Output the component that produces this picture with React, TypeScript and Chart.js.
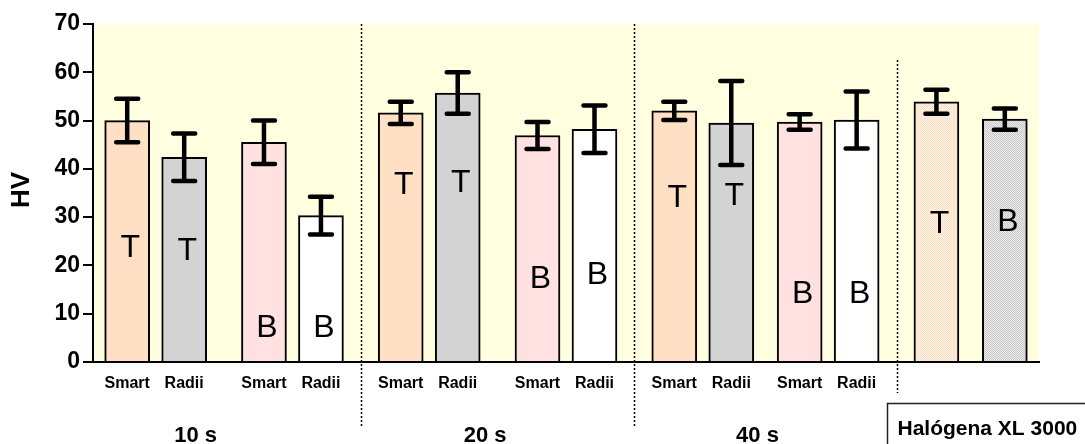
import React, { useEffect, useRef } from "react";
import { Chart, registerables } from "chart.js";

Chart.register(...registerables);

// ---------- data ----------
const barLabels = [
  "Smart", "Radii", "Smart", "Radii",
  "Smart", "Radii", "Smart", "Radii",
  "Smart", "Radii", "Smart", "Radii",
  "", "",
];
const hvMeans = [50.0, 42.4, 45.5, 30.3, 51.6, 55.7, 46.9, 48.2, 52.0, 49.5, 49.7, 50.1, 53.9, 50.3];
const hvSD = [4.5, 4.9, 4.5, 3.9, 2.3, 4.3, 2.8, 4.9, 1.9, 8.7, 1.6, 5.9, 2.5, 2.2];
const surfaceLetters = ["T", "T", "B", "B", "T", "T", "B", "B", "T", "T", "B", "B", "T", "B"];
const letterLevels = [24.2, 23.5, 7.5, 7.5, 37.2, 37.5, 17.7, 18.5, 34.4, 34.8, 14.7, 14.7, 29.1, 29.6];
const groupLabels = ["10 s", "20 s", "40 s"];
const lampLabel = "Halógena XL 3000";
const yTickValues = [0, 10, 20, 30, 40, 50, 60, 70];
const yTitle = "HV";

// ---------- layout / style ----------
const SLOT_GAPS = [3, 5, 7, 5, 7, 5, 7, 5, 7, 5, 6, 5, 7, 6];
const TRAILING_SLOTS = 3;
const GROUP_LABEL_SLOTS = [9, 34.4, 58.3];
const FONT = "Arial, 'Liberation Sans', sans-serif";

function makePattern(a: string, b: string) {
  const c = document.createElement("canvas");
  c.width = 2;
  c.height = 2;
  const g = c.getContext("2d")!;
  g.fillStyle = a;
  g.fillRect(0, 0, 2, 2);
  g.fillStyle = b;
  g.fillRect(0, 0, 1, 1);
  g.fillRect(1, 1, 1, 1);
  return g.createPattern(c, "repeat")!;
}

export default function App() {
  const ref = useRef<HTMLCanvasElement>(null);

  useEffect(() => {
    const canvas = ref.current!;
    const slots: number[] = [];
    let pos = 0;
    SLOT_GAPS.forEach((g) => {
      pos += g;
      slots.push(pos);
    });
    const nSlots = pos + TRAILING_SLOTS + 1;
    const labels: string[] = new Array(nSlots).fill("");
    const data: (number | null)[] = new Array(nSlots).fill(null);
    const colors: any[] = new Array(nSlots).fill("#fff");

    const peachHatch = makePattern("#FFF4EA", "#FFDDBF");
    const grayHatch = makePattern("#EDEDED", "#C6C6C6");
    const barFills = [
      "#FFE0C4", "#D3D3D3", "#FFE1E1", "#FFFFFF",
      "#FFE0C4", "#D3D3D3", "#FFE1E1", "#FFFFFF",
      "#FFE0C4", "#D3D3D3", "#FFE1E1", "#FFFFFF",
      peachHatch, grayHatch,
    ];

    slots.forEach((s, i) => {
      labels[s] = barLabels[i];
      data[s] = hvMeans[i];
      colors[s] = barFills[i];
    });

    const decor = {
      id: "decor",
      beforeDraw(chart: any) {
        const { ctx, chartArea: a } = chart;
        ctx.save();
        ctx.fillStyle = "#FFFFE0";
        ctx.fillRect(a.left, a.top, a.right - a.left, a.bottom - a.top);
        ctx.restore();
      },
      afterDatasetsDraw(chart: any) {
        const { ctx } = chart;
        const ys = chart.scales.y;
        const meta = chart.getDatasetMeta(0);
        ctx.save();
        ctx.strokeStyle = "#000";
        ctx.fillStyle = "#000";
        slots.forEach((s, i) => {
          const el = meta.data[s];
          const x = el.x;
          const yTop = ys.getPixelForValue(hvMeans[i] + hvSD[i]);
          const yBot = ys.getPixelForValue(hvMeans[i] - hvSD[i]);
          ctx.lineWidth = 4.5;
          ctx.lineCap = "butt";
          ctx.beginPath();
          ctx.moveTo(x, yTop);
          ctx.lineTo(x, yBot);
          ctx.stroke();
          ctx.lineCap = "round";
          ctx.beginPath();
          ctx.moveTo(x - 11, yTop);
          ctx.lineTo(x + 11, yTop);
          ctx.moveTo(x - 11, yBot);
          ctx.lineTo(x + 11, yBot);
          ctx.stroke();
          // surface letter
          ctx.font = `32px ${FONT}`;
          ctx.textAlign = "center";
          ctx.textBaseline = "alphabetic";
          const cy = ys.getPixelForValue(letterLevels[i]);
          ctx.fillText(surfaceLetters[i], x + 3, cy + 11.5);
        });
        ctx.restore();
      },
      afterDraw(chart: any) {
        const { ctx, chartArea: a } = chart;
        const xs = chart.scales.x;
        ctx.save();
        // dotted dividers
        ctx.strokeStyle = "#000";
        ctx.lineWidth = 1.5;
        ctx.setLineDash([2, 2]);
        const div = (k: number) => Math.round((xs.getPixelForValue(slots[k]) + xs.getPixelForValue(slots[k + 1])) / 2) + 0.5;
        const d1 = div(3), d2 = div(7), d3 = div(11);
        ctx.beginPath();
        ctx.moveTo(d1, a.top);
        ctx.lineTo(d1, a.bottom + 66);
        ctx.moveTo(d2, a.top);
        ctx.lineTo(d2, a.bottom + 66);
        ctx.moveTo(d3, a.top + 36);
        ctx.lineTo(d3, a.bottom + 31);
        ctx.stroke();
        ctx.setLineDash([]);

        // group labels
        ctx.fillStyle = "#000";
        ctx.font = `bold 22px ${FONT}`;
        ctx.textAlign = "center";
        ctx.textBaseline = "alphabetic";
        groupLabels.forEach((t, i) => {
          ctx.fillText(t, xs.getPixelForValue(GROUP_LABEL_SLOTS[i]), a.bottom + 80);
        });

        // lamp box
        ctx.lineWidth = 1.5;
        ctx.strokeStyle = "#222";
        const bx = d3 - 10;
        const by = a.bottom + 41.5;
        ctx.strokeRect(bx, by, 400, 100);
        ctx.font = `bold 21px ${FONT}`;
        ctx.textAlign = "left";
        ctx.fillText(lampLabel, bx + 10, a.bottom + 73);

        // y title
        ctx.translate(22, (a.top + a.bottom) / 2 - 3);
        ctx.rotate(-Math.PI / 2);
        ctx.font = `bold 26px ${FONT}`;
        ctx.textAlign = "center";
        ctx.textBaseline = "middle";
        ctx.fillText(yTitle, 0, 0);
        ctx.restore();
      },
    };

    const chart = new Chart(canvas, {
      type: "bar",
      data: {
        labels,
        datasets: [
          {
            data,
            backgroundColor: colors,
            borderColor: "#000",
            borderWidth: 2,
            barThickness: 45,
            borderSkipped: "start",
          },
        ],
      },
      options: {
        responsive: false,
        animation: false,
        devicePixelRatio: 1,
        layout: { padding: { left: 0, right: 46, top: 24, bottom: 0 } },
        plugins: { legend: { display: false }, tooltip: { enabled: false } },
        scales: {
          x: {
            type: "category",
            offset: false,
            grid: { display: false, drawTicks: false },
            border: { display: true, color: "#000", width: 2 },
            ticks: {
              autoSkip: false,
              maxRotation: 0,
              minRotation: 0,
              padding: 12,
              color: "#000",
              font: { family: FONT, size: 16, weight: "bold" },
            },
            afterFit: (s: any) => {
              s.height = 82;
            },
          },
          y: {
            min: 0,
            max: 70,
            afterBuildTicks: (s: any) => {
              s.ticks = yTickValues.map((v) => ({ value: v }));
            },
            grid: {
              display: true,
              drawOnChartArea: false,
              drawTicks: true,
              tickLength: 10,
              color: "#000",
              lineWidth: 2,
            },
            border: { display: true, color: "#000", width: 2 },
            ticks: {
              padding: 3,
              color: "#000",
              font: { family: FONT, size: 23, weight: "bold" },
            },
            afterFit: (s: any) => {
              s.width = 93;
            },
          },
        },
      },
      plugins: [decor],
    } as any);
    return () => chart.destroy();
  }, []);

  return (
    <div style={{ position: "fixed", left: 0, top: 0, width: 1085, height: 444, background: "#fff" }}>
      <canvas ref={ref} width={1085} height={444} style={{ width: 1085, height: 444, display: "block" }} />
    </div>
  );
}
